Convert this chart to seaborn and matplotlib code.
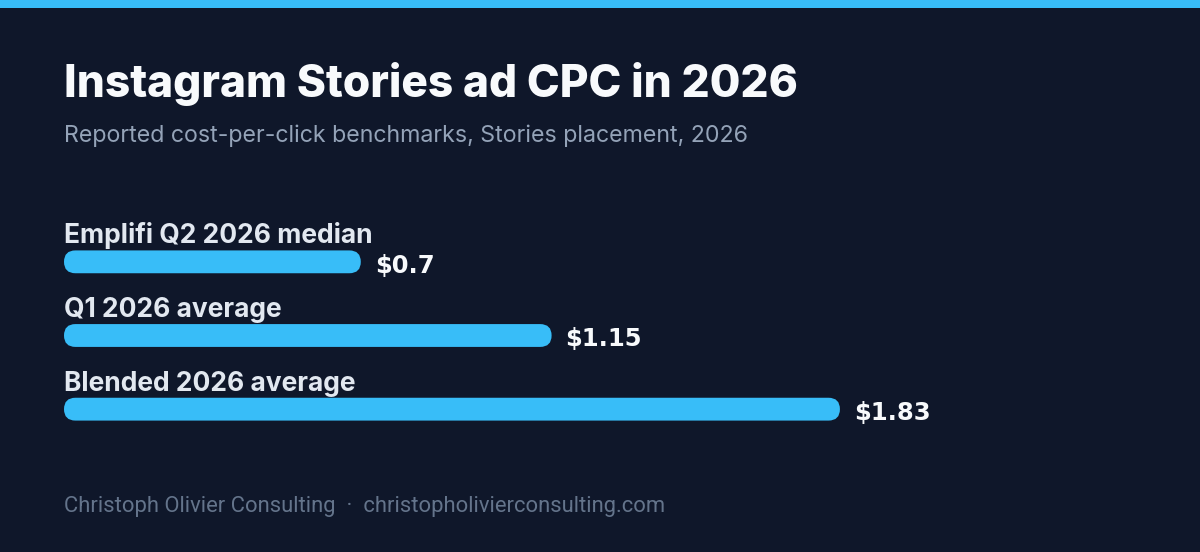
import numpy as np
import pandas as pd
import seaborn as sns
import matplotlib.pyplot as plt
from matplotlib.patches import FancyBboxPatch, Rectangle

# data
labels = ["Emplifi Q2 2026 median", "Q1 2026 average", "Blended 2026 average"]
cpc = [0.7, 1.15, 1.83]
value_text = ["$0.7", "$1.15", "$1.83"]

bg = "#0f172a"
accent = "#38bdf8"

df = pd.DataFrame({"label": labels, "cpc": cpc})

sns.set_theme(style="white")
plt.rcParams["font.family"] = ["Inter", "DejaVu Sans"]

fig = plt.figure(figsize=(12, 5.52), dpi=100, facecolor=bg)

# top stripe
fig.patches.append(Rectangle((0, 1 - 8 / 552), 1, 8 / 552, transform=fig.transFigure,
                             facecolor=accent, edgecolor="none", zorder=5))

# axes in pixel layout: x 64..1136, y 225..446
ax = fig.add_axes([64 / 1200, (552 - 446) / 552, 1072 / 1200, 221 / 552])
ax.set_facecolor(bg)

sns.barplot(data=df, x="cpc", y="label", orient="h", color=accent, width=0.31,
            saturation=1, ax=ax)
ax.set_xlim(0, 1072 / 424)
ax.set_ylim(2.5, -0.5)
ax.axis("off")

# swap rectangles for rounded ones
fig.canvas.draw()
px_x = (ax.get_xlim()[1] - ax.get_xlim()[0]) / ax.bbox.width
px_y = abs(ax.get_ylim()[1] - ax.get_ylim()[0]) / ax.bbox.height
for p in list(ax.patches):
    x0, y0, w, h = p.get_x(), p.get_y(), p.get_width(), p.get_height()
    r = (h / px_y) / 2 * px_x
    p.remove()
    ax.add_patch(FancyBboxPatch((x0, y0), w, h,
                                boxstyle=f"round,pad=0,rounding_size={r}",
                                mutation_aspect=px_y / px_x,
                                facecolor=accent, edgecolor="none"))

for i, (lab, v, t) in enumerate(zip(labels, cpc, value_text)):
    ax.annotate(lab, xy=(0, i - 0.155), xytext=(0, 7), textcoords="offset pixels",
                ha="left", va="baseline", fontsize=19, fontweight="bold",
                color="#e2e8f0", annotation_clip=False)
    ax.annotate(t, xy=(v, i), xytext=(14, -11), textcoords="offset pixels",
                ha="left", va="baseline", fontsize=17.5, fontweight="bold",
                color="#f8fafc", family="DejaVu Sans", annotation_clip=False)

fig.text(64 / 1200, 1 - 97 / 552, "Instagram Stories ad CPC in 2026",
         fontsize=31.9, fontweight=800, color="#f8fafc", va="baseline", ha="left")
fig.text(64 / 1200, 1 - 142 / 552, "Reported cost-per-click benchmarks, Stories placement, 2026",
         fontsize=16.7, color="#94a3b8", va="baseline", ha="left")
fig.text(64 / 1200, 1 - 512 / 552,
         "Christoph Olivier Consulting  ·  christopholivierconsulting.com",
         fontsize=15.8, color="#64748b", va="baseline", ha="left", family="Roboto")

fig.savefig("out.png", dpi=100, facecolor=bg)
